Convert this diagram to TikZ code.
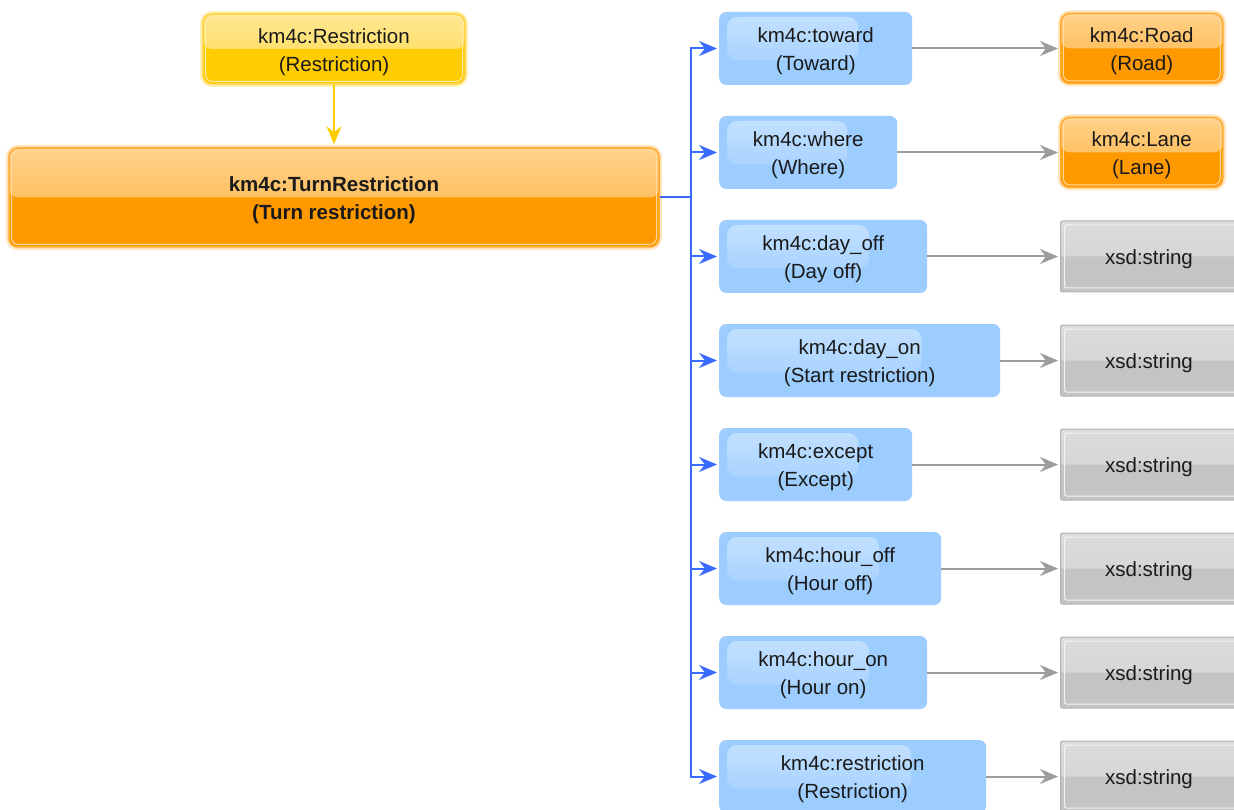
\documentclass[tikz,border=0pt]{standalone}
\usepackage{fontspec}
\setmainfont{Liberation Sans}
\usetikzlibrary{arrows.meta,calc}

\definecolor{txt}{HTML}{1A1A1A}
\definecolor{ylw}{HTML}{FFCC00}
\definecolor{ylwtop}{HTML}{FFEFA8}
\definecolor{ylwmid}{HTML}{FFD84A}
\definecolor{ylwedge}{HTML}{FFD23A}
\definecolor{ylwin}{HTML}{FFEC9A}
\definecolor{ylwglow}{HTML}{FFF0B8}
\definecolor{ora}{HTML}{FF9900}
\definecolor{oratop}{HTML}{FFD494}
\definecolor{oramid}{HTML}{FFB23C}
\definecolor{oraedge}{HTML}{FFAA30}
\definecolor{orain}{HTML}{FFD08C}
\definecolor{oraglow}{HTML}{FFE4BE}
\definecolor{blu}{HTML}{9DCDFF}
\definecolor{bluhi}{HTML}{C4E1FF}
\definecolor{gry}{HTML}{C4C4C4}
\definecolor{grytop}{HTML}{DCDCDC}
\definecolor{grymid}{HTML}{D0D0D0}
\definecolor{gryedge}{HTML}{B4B4B4}
\definecolor{link}{HTML}{3A6BFF}
\definecolor{gline}{HTML}{9C9C9C}

\begin{document}
\begin{tikzpicture}[x=1pt,y=-1pt,
  every node/.style={font=\fontsize{20.5}{28}\selectfont, text=txt, align=center, inner sep=0pt},
  lift/.style={execute at begin node={\rule{0pt}{#1}}},
  % glossy box: lighter gradient on the upper half, thin light inner rim
  glossbox/.style n args={4}{rounded corners=9pt, fill=#1, draw=#3, line width=1.5pt, lift=49pt,
      preaction={draw=#4, line width=6pt},
      path picture={\fill[top color=#2!60!white, bottom color=#2]
          (path picture bounding box.north west) rectangle (path picture bounding box.east);
        \draw[#2!50!white, line width=1pt, rounded corners=7pt]
          ([shift={(2.5pt,-2.5pt)}]path picture bounding box.north west) rectangle
          ([shift={(-2.5pt,2.5pt)}]path picture bounding box.south east);}},
  yellowbox/.style={glossbox={ylw}{ylwmid}{ylwedge}{ylwglow}},
  orangebox/.style={glossbox={ora}{oramid}{oraedge}{oraglow}},
  bluebox/.style={rounded corners=7pt, fill=blu, minimum height=73pt, anchor=west, lift=49pt,
      path picture={\fill[rounded corners=10pt, top color=bluhi, bottom color=blu]
        ([shift={(8pt,-5pt)}]path picture bounding box.north west) rectangle
        ($(path picture bounding box.west)!0.72!(path picture bounding box.east)+(0,-12pt)$);}},
  graybox/.style={fill=gry, draw=gryedge, line width=1pt, rounded corners=2pt,
      minimum width=190pt, minimum height=71pt, anchor=west,
      path picture={\fill[top color=grytop, bottom color=grymid]
          (path picture bounding box.north west) rectangle (path picture bounding box.east);
        \draw[white!80!gry, line width=1pt]
          ([shift={(4pt,-4pt)}]path picture bounding box.north west) rectangle
          ([shift={(-4pt,4pt)}]path picture bounding box.south east);}},
  tip/.style={-{Stealth[length=18pt, width=15pt, inset=6pt]}},
  bluearrow/.style={draw=link, line width=2pt, tip, shorten >=2pt},
  grayarrow/.style={draw=gline, line width=2pt, tip, shorten >=2pt},
  yelarrow/.style={draw=ylw, line width=1.8pt, tip, shorten >=3pt}]

\clip (0,0) rectangle (1234,810);
\fill[white] (0,0) rectangle (1234,810);

% class hierarchy
\node[yellowbox, minimum width=262pt, minimum height=70pt] (restr) at (334,49)
  {km4c:Restriction\\(Restriction)};
\node[orangebox, minimum width=650pt, minimum height=99pt,
      font=\fontsize{20.5}{28}\selectfont\bfseries] (turn) at (334,197.5)
  {km4c:TurnRestriction\\(Turn restriction)};
\draw[yelarrow] (restr.south) -- (turn.north);

% properties
\node[bluebox, minimum width=193pt] (toward)   at (719,48.5)  {km4c:toward\\(Toward)};
\node[bluebox, minimum width=178pt] (where)    at (719,152.5) {km4c:where\\(Where)};
\node[bluebox, minimum width=208pt] (dayoff)   at (719,256.5) {km4c:day\_off\\(Day off)};
\node[bluebox, minimum width=281pt] (dayon)    at (719,360.5) {km4c:day\_on\\(Start restriction)};
\node[bluebox, minimum width=193pt] (except)   at (719,464.5) {km4c:except\\(Except)};
\node[bluebox, minimum width=222pt] (houroff)  at (719,568.5) {km4c:hour\_off\\(Hour off)};
\node[bluebox, minimum width=208pt] (houron)   at (719,672.5) {km4c:hour\_on\\(Hour on)};
\node[bluebox, minimum width=267pt] (prestr)   at (719,776.5) {km4c:restriction\\(Restriction)};

% ranges
\node[orangebox, minimum width=162pt, minimum height=70pt, anchor=west] (road) at (1060,48.5)
  {km4c:Road\\(Road)};
\node[orangebox, minimum width=162pt, minimum height=70pt, anchor=west] (lane) at (1060,152.5)
  {km4c:Lane\\(Lane)};
\foreach \s/\y in {s1/256.5,s2/360.5,s3/464.5,s4/568.5,s5/672.5,s6/776.5}{
  \node[graybox] (\s) at (1060,\y) {};
  \node[lift=21pt] (\s-label) at ([xshift=89pt]\s.west) {xsd:string};
}

% domain links
\foreach \p in {toward,where,dayoff,dayon,except,houroff,houron,prestr}
  \draw[bluearrow] (turn.east) -- ++(31,0) |- (\p.west);

% range links
\draw[grayarrow] (toward.east)  -- (road.west);
\draw[grayarrow] (where.east)   -- (lane.west);
\draw[grayarrow] (dayoff.east)  -- (s1.west);
\draw[grayarrow] (dayon.east)   -- (s2.west);
\draw[grayarrow] (except.east)  -- (s3.west);
\draw[grayarrow] (houroff.east) -- (s4.west);
\draw[grayarrow] (houron.east)  -- (s5.west);
\draw[grayarrow] (prestr.east)  -- (s6.west);
\end{tikzpicture}
\end{document}
